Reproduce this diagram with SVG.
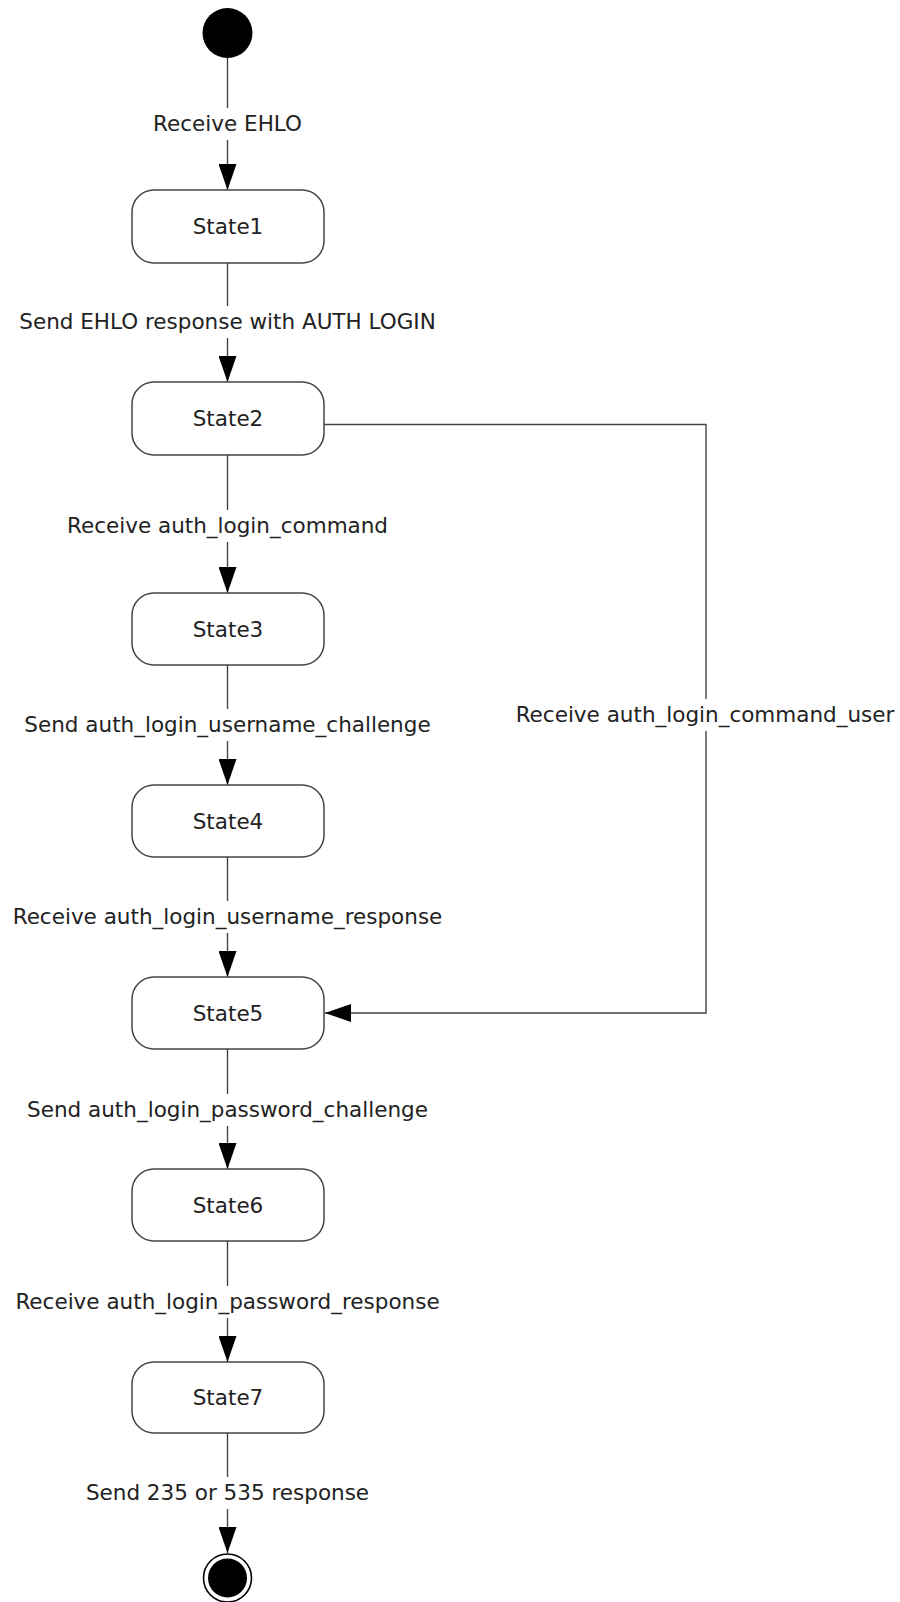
<svg xmlns="http://www.w3.org/2000/svg" width="900" height="1602" viewBox="0 0 900 1602">
<style>
.state{fill:#fff;stroke:#444;stroke-width:1.5}
.st{font-family:"DejaVu Sans",Verdana,sans-serif;font-size:21.5px;fill:#222;text-anchor:middle}
.lbl{font-family:"DejaVu Sans",Verdana,sans-serif;font-size:21.5px;fill:#222;text-anchor:middle}
.conn{fill:none;stroke:#444;stroke-width:1.4}
</style>
<defs>
<marker id="arr" viewBox="0 0 26 18" markerWidth="26" markerHeight="18" refX="26" refY="9" orient="auto" markerUnits="userSpaceOnUse">
<path d="M0,0 L26,9 L0,18 z" fill="#000"/>
</marker>
</defs>
<rect width="900" height="1602" fill="#fff"/>
<g id="connectors">
<path class="conn" d="M227.5,58 V108 M227.5,140 V190" marker-end="url(#arr)"/>
<path class="conn" d="M227.5,263 V306 M227.5,338 V382" marker-end="url(#arr)"/>
<path class="conn" d="M227.5,455 V510 M227.5,542 V593" marker-end="url(#arr)"/>
<path class="conn" d="M227.5,665 V709 M227.5,741 V785" marker-end="url(#arr)"/>
<path class="conn" d="M227.5,857 V901 M227.5,933 V977" marker-end="url(#arr)"/>
<path class="conn" d="M227.5,1049 V1094 M227.5,1126 V1169" marker-end="url(#arr)"/>
<path class="conn" d="M227.5,1241 V1286 M227.5,1318 V1362" marker-end="url(#arr)"/>
<path class="conn" d="M227.5,1433 V1477 M227.5,1509 V1553" marker-end="url(#arr)"/>
<path class="conn" d="M324,424.5 H706 V699 M706,731 V1013 H325" marker-end="url(#arr)"/>
<text class="lbl" x="227.5" y="131">Receive EHLO</text>
<text class="lbl" x="227.5" y="329">Send EHLO response with AUTH LOGIN</text>
<text class="lbl" x="227.5" y="533">Receive auth_login_command</text>
<text class="lbl" x="227.5" y="732">Send auth_login_username_challenge</text>
<text class="lbl" x="227.5" y="924">Receive auth_login_username_response</text>
<text class="lbl" x="227.5" y="1117">Send auth_login_password_challenge</text>
<text class="lbl" x="227.5" y="1309">Receive auth_login_password_response</text>
<text class="lbl" x="227.5" y="1500">Send 235 or 535 response</text>
<text class="lbl" x="705" y="722">Receive auth_login_command_user</text>
</g>
<g id="start"><circle cx="227.5" cy="33" r="25" fill="#000"/></g>
<g id="state1"><rect class="state" x="132" y="190" width="192" height="73" rx="22"/><text class="st" x="228" y="234">State1</text></g>
<g id="state2"><rect class="state" x="132" y="382" width="192" height="73" rx="22"/><text class="st" x="228" y="426">State2</text></g>
<g id="state3"><rect class="state" x="132" y="593" width="192" height="72" rx="22"/><text class="st" x="228" y="637">State3</text></g>
<g id="state4"><rect class="state" x="132" y="785" width="192" height="72" rx="22"/><text class="st" x="228" y="829">State4</text></g>
<g id="state5"><rect class="state" x="132" y="977" width="192" height="72" rx="22"/><text class="st" x="228" y="1021">State5</text></g>
<g id="state6"><rect class="state" x="132" y="1169" width="192" height="72" rx="22"/><text class="st" x="228" y="1213">State6</text></g>
<g id="state7"><rect class="state" x="132" y="1362" width="192" height="71" rx="22"/><text class="st" x="228" y="1405">State7</text></g>
<g id="end"><circle cx="227.5" cy="1578" r="24" fill="none" stroke="#000" stroke-width="1.6"/><circle cx="227.5" cy="1578" r="19.5" fill="#000"/></g>
</svg>
